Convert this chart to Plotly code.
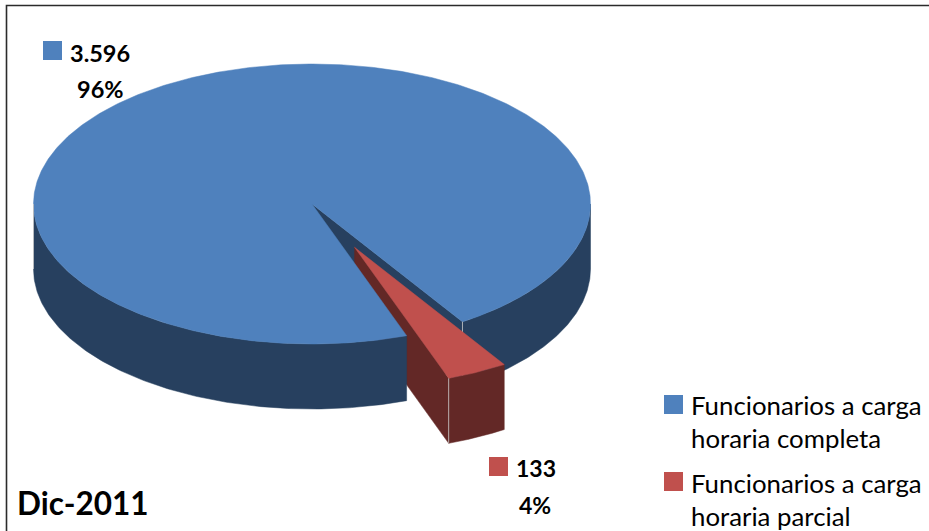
import numpy as np
import plotly.graph_objects as go

# ---- data ----
series_names = ["Funcionarios a carga<br>horaria completa", "Funcionarios a carga<br>horaria parcial"]
series_values = [3596, 133]
title_text = "Dic-2011"

# ---- style / geometry of the pie ----
TOP = ["#4F81BD", "#C0504D"]
WALL = ["#27405F", "#632826"]
SEAM = "rgba(205,205,205,0.8)"
FONT = "Lato"
CX, CY, RX, RY, DEPTH = 312.0, 204.0, 278.5, 140.0, 65.0
FIRST_ANGLE = 147.3      # clockwise from 12 o'clock, start of the small slice
EXPLODE = 0.345
SMALL_SCALE = 0.995

total = sum(series_values)
sweep_small = 360.0 * series_values[1] / total
a0, a1 = FIRST_ANGLE, FIRST_ANGLE + sweep_small
mid = np.radians((a0 + a1) / 2)
OX, OY = EXPLODE * RX * np.sin(mid), -EXPLODE * RY * np.cos(mid)


def arc(start, end, dx=0.0, dy=0.0, n=160, s=1.0):
    t = np.radians(np.linspace(start, end, n))
    return CX + dx + s * RX * np.sin(t), CY + dy - s * RY * np.cos(t)


def poly(fig, x, y, color):
    fig.add_trace(go.Scatter(x=np.r_[x, x[0]], y=np.r_[y, y[0]], mode="lines", fill="toself",
                             fillcolor=color, line=dict(color=color, width=0.5),
                             hoverinfo="skip", showlegend=False))


def wall(fig, start, end, color, dx=0.0, dy=0.0, s=1.0):
    x, y = arc(start, end, dx, dy, s=s)
    poly(fig, np.r_[x, x[::-1]], np.r_[y, y[::-1] + DEPTH], color)


def seam(fig, x, y0, y1):
    fig.add_trace(go.Scatter(x=[x, x], y=[y0, y1], mode="lines", line=dict(color=SEAM, width=1),
                             hoverinfo="skip", showlegend=False))


def cut(fig, angle, color, dx=0.0, dy=0.0, s=1.0):
    ex, ey = arc(angle, angle, dx, dy, n=1, s=s)
    px, py = CX + dx, CY + dy
    poly(fig, np.array([px, ex[0], ex[0], px]), np.array([py, ey[0], ey[0] + DEPTH, py + DEPTH]), color)


fig = go.Figure()

# inner face of the large slice, then inner face of the small slice
cut(fig, a0, WALL[0])
cut(fig, a1, WALL[1], OX, OY, SMALL_SCALE)

# outer walls and top of the large slice
wall(fig, a1, 270, WALL[0])
wall(fig, 90, a0, WALL[0])
bx, by = arc(a1, a0 + 360, n=600)
poly(fig, np.r_[CX, bx], np.r_[CY, by], TOP[0])
ex, ey = arc(a0, a0, n=1)
seam(fig, ex[0], ey[0], ey[0] + DEPTH)
ex, ey = arc(270, 270, n=1)
seam(fig, ex[0], ey[0], ey[0] + DEPTH)

# outer wall and top of the small slice
wall(fig, a0, a1, WALL[1], OX, OY, SMALL_SCALE)
rx, ry = arc(a0, a1, OX, OY, s=SMALL_SCALE)
poly(fig, np.r_[CX + OX, rx], np.r_[CY + OY, ry], TOP[1])
ex, ey = arc(a1, a1, OX, OY, n=1, s=SMALL_SCALE)
seam(fig, ex[0], ey[0], ey[0] + DEPTH)

# legend-key squares (legend and data labels)
KEY_X = [52.5, 498.5, 673.5, 673.5]
KEY_Y = [50.5, 466.5, 404.5, 481.5]
fig.add_trace(go.Scatter(x=KEY_X, y=KEY_Y, mode="markers",
                         marker=dict(symbol="square", size=19, color=[TOP[0], TOP[1], TOP[0], TOP[1]],
                                     line=dict(width=0)),
                         hoverinfo="skip", showlegend=False))

ann = []


def label(text, x, y, size, bold=False):
    ann.append(dict(x=x, y=y, xref="x", yref="y", text=f"<b>{text}</b>" if bold else text, showarrow=False,
                    xanchor="left", yanchor="middle", align="left",
                    font=dict(family=FONT, size=size, color="#000000")))


counts = [f"{v:,}".replace(",", ".") for v in series_values]
pcts = [f"{round(100 * v / total)}%" for v in series_values]
label(counts[0], 68, 53, 23.5, True)
label(pcts[0], 75, 89, 23.5, True)
label(counts[1], 514, 468, 23, True)
label(pcts[1], 517, 505, 23, True)
label(title_text, 15, 503, 31.5, True)

for name, ys in zip(series_names, [(405, 438), (483, 516)]):
    for line, y in zip(name.split("<br>"), ys):
        label(line, 689, y, 25.8)

fig.update_layout(
    width=929, height=531, autosize=False,
    margin=dict(l=0, r=0, t=0, b=0),
    paper_bgcolor="white", plot_bgcolor="white",
    showlegend=False,
    xaxis=dict(range=[0, 929], visible=False, fixedrange=True),
    yaxis=dict(range=[531, 0], visible=False, fixedrange=True),
    annotations=ann,
    shapes=[dict(type="rect", xref="x", yref="y", x0=6.5, y0=5.5, x1=960, y1=560,
                 line=dict(color="#2B2B2B", width=1.6), fillcolor="rgba(0,0,0,0)")],
)

fig.write_html("out.html", config=dict(displayModeBar=False),
               post_script="document.body.style.margin='0';document.documentElement.style.overflow='hidden';")
